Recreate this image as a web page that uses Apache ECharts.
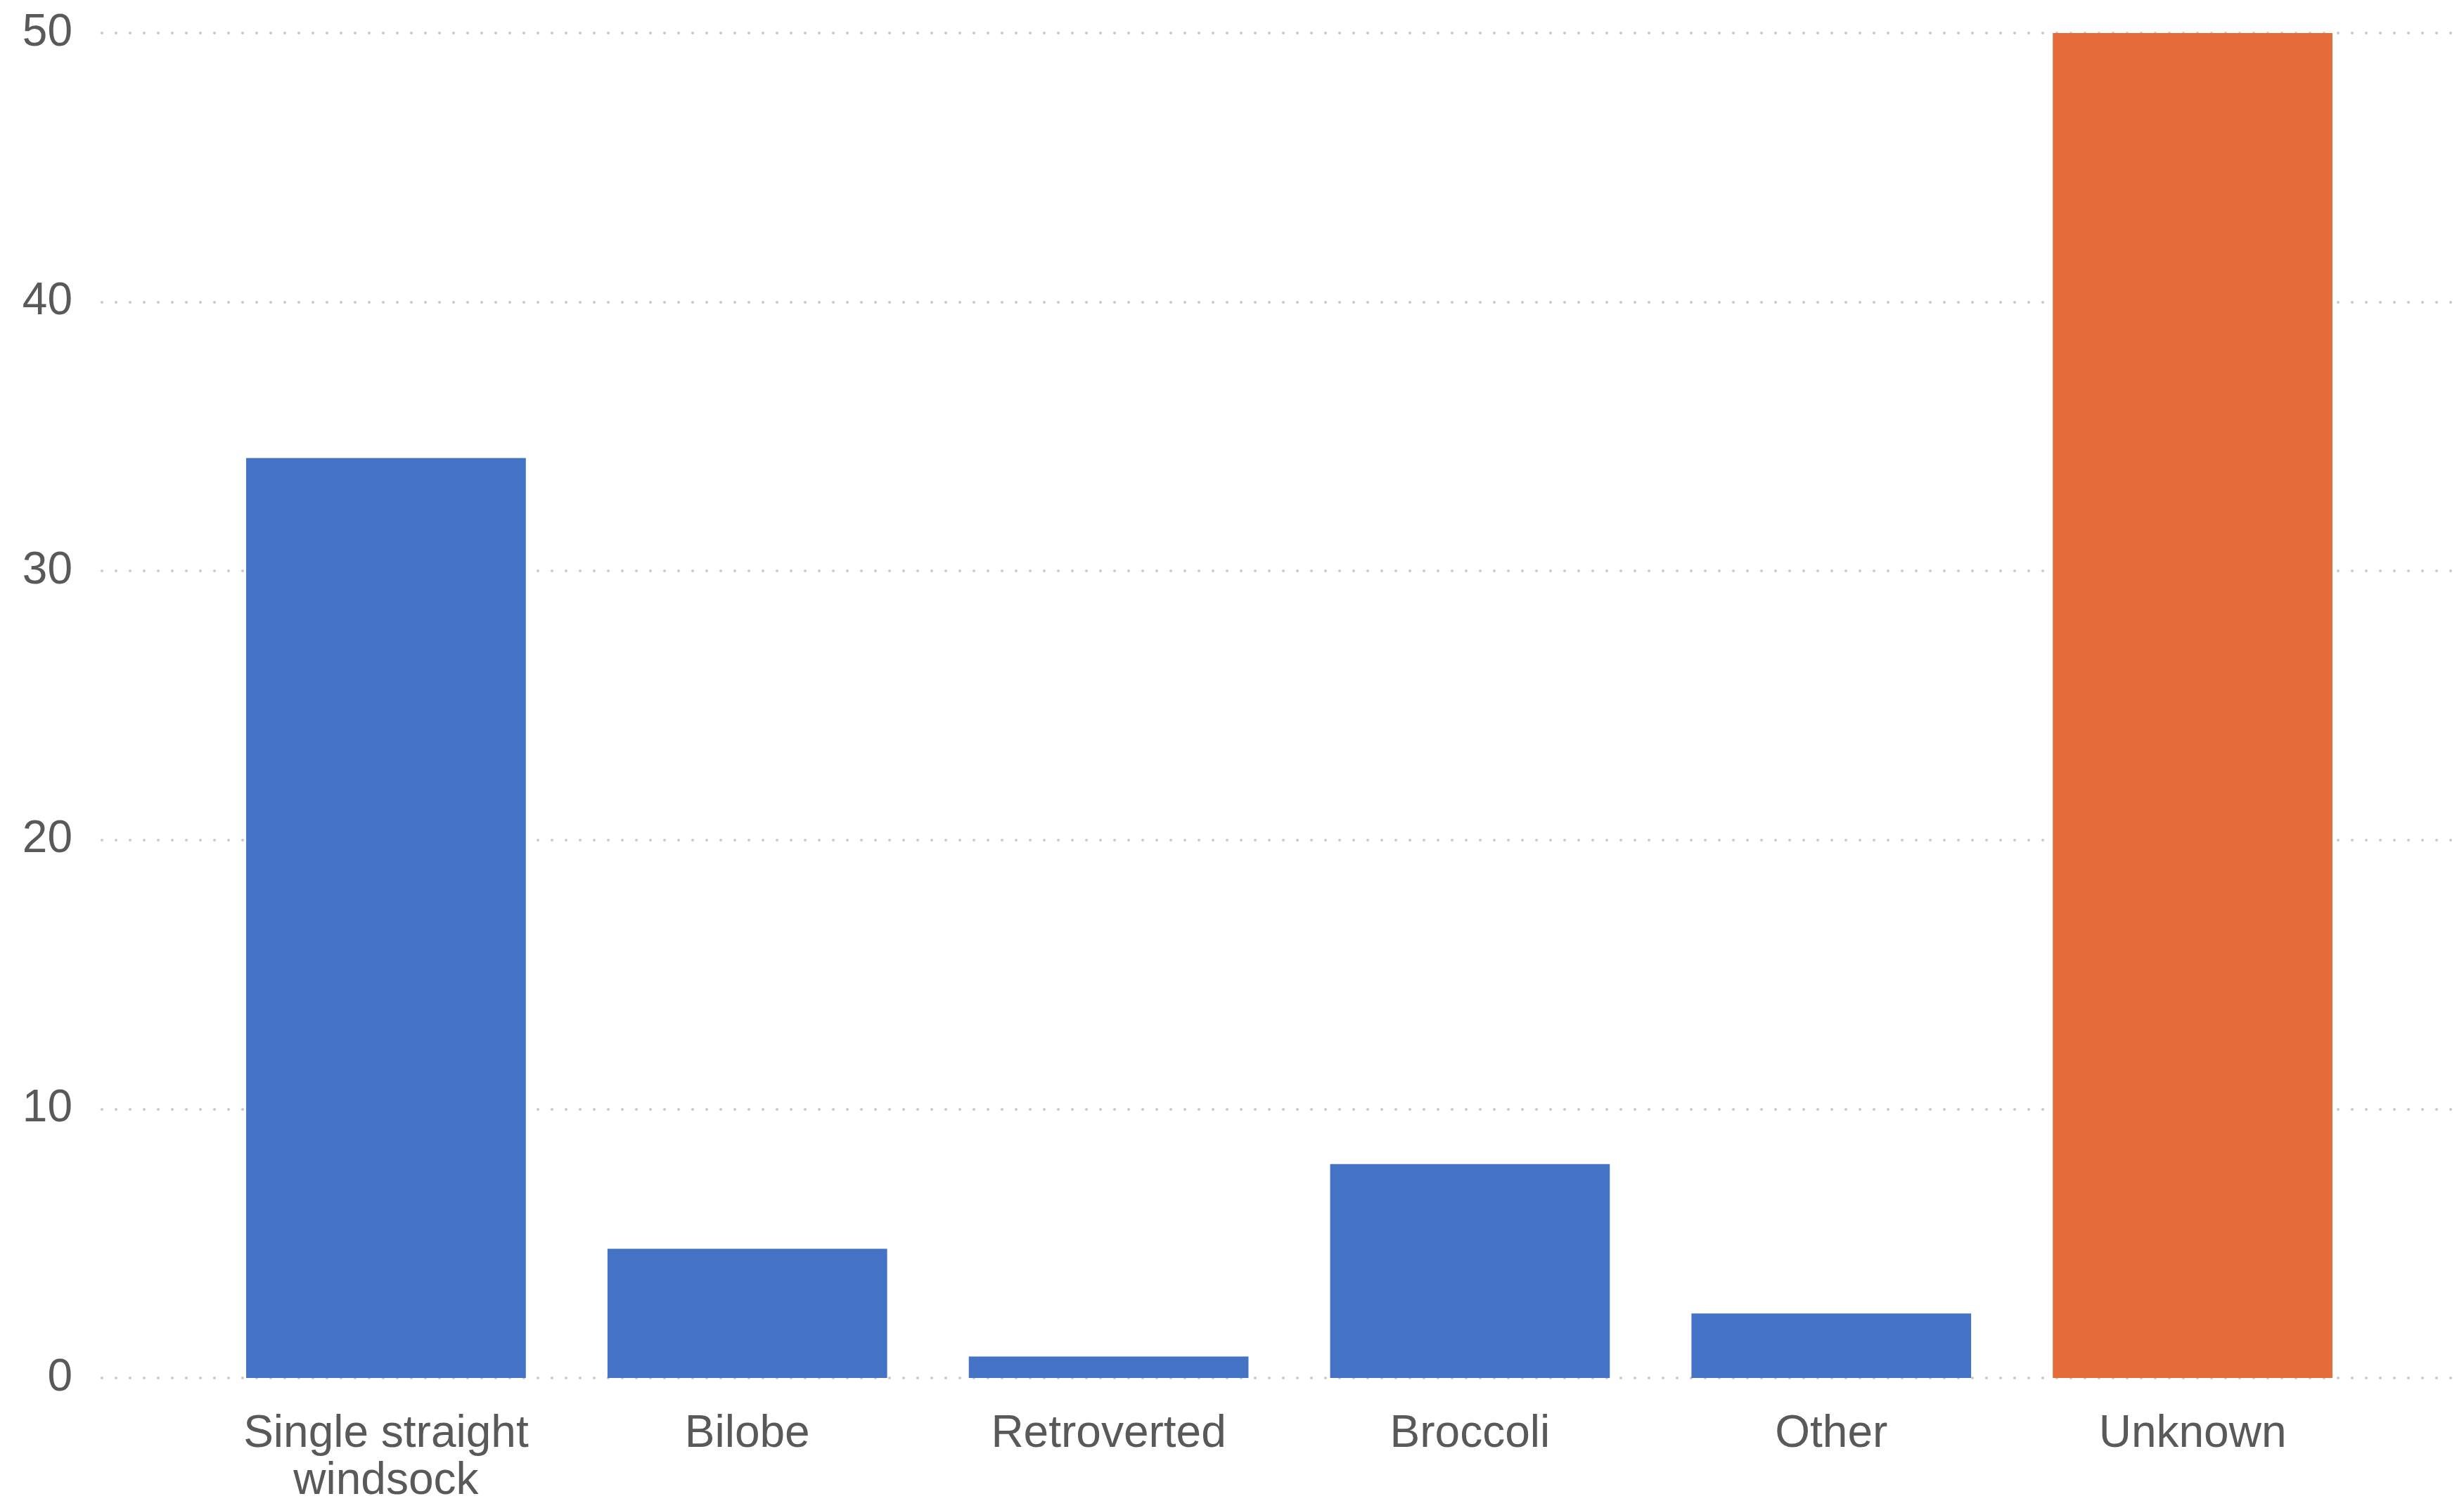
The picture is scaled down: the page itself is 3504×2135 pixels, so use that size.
<!DOCTYPE html>
<html>
<head>
<meta charset="utf-8">
<title>Bar chart</title>
<script src="https://cdn.jsdelivr.net/npm/echarts@6/dist/echarts.min.js"></script>
<style>
  html, body { margin: 0; padding: 0; background: #ffffff; }
  #chart { width: 3504px; height: 2135px; }
</style>
</head>
<body>
<div id="chart"></div>
<script>
// Category names and their values (percent)
const categories = ['Single straight\nwindsock', 'Bilobe', 'Retroverted', 'Broccoli', 'Other', 'Unknown'];
const values = [34.2, 4.8, 0.8, 7.95, 2.4, 50.0];
// Category whose bar is highlighted
const highlighted = ['Unknown'];
// Value axis ticks
const yTicks = [0, 10, 20, 30, 40, 50];

const BLUE = '#4472C4';
const ORANGE = '#E46C38';
const TEXT = '#595959';
const FONT = '"Liberation Sans", Arial, sans-serif';

const yMin = yTicks[0];
const yMax = yTicks[yTicks.length - 1];
const yStep = yTicks[1] - yTicks[0];

const chart = echarts.init(document.getElementById('chart'), null, { renderer: 'canvas' });

chart.setOption({
  backgroundColor: '#ffffff',
  animation: false,
  grid: [
    // bars
    { left: 292, right: 129, top: 47, bottom: 175, outerBoundsMode: 'none', containLabel: false },
    // gridlines + value labels (full width)
    { left: 145, right: 0, top: 47, bottom: 175, outerBoundsMode: 'none', containLabel: false }
  ],
  xAxis: [
    {
      type: 'category',
      gridIndex: 0,
      data: categories,
      axisLine: { show: false },
      axisTick: { show: false },
      axisLabel: {
        color: TEXT,
        fontFamily: FONT,
        fontSize: 64,
        lineHeight: 67,
        margin: 47,
        interval: 0
      }
    },
    {
      type: 'value',
      gridIndex: 1,
      show: false
    }
  ],
  yAxis: [
    {
      type: 'value',
      gridIndex: 0,
      min: yMin,
      max: yMax,
      interval: yStep,
      axisLine: { show: false },
      axisTick: { show: false },
      axisLabel: { show: false },
      splitLine: { show: false }
    },
    {
      type: 'value',
      gridIndex: 1,
      min: yMin,
      max: yMax,
      interval: yStep,
      axisLine: { show: false },
      axisTick: { show: false },
      axisLabel: {
        color: TEXT,
        fontFamily: FONT,
        fontSize: 64,
        margin: 42
      },
      splitLine: {
        show: true,
        lineStyle: {
          color: '#c9c9c9',
          width: 4,
          type: [0, 20],
          cap: 'round'
        }
      }
    }
  ],
  series: [
    {
      type: 'bar',
      xAxisIndex: 0,
      yAxisIndex: 0,
      barCategoryGap: '22.6%',
      z: 3,
      data: values.map((v, i) => ({
        value: v,
        itemStyle: { color: highlighted.includes(categories[i]) ? ORANGE : BLUE }
      }))
    }
  ]
});
</script>
</body>
</html>
